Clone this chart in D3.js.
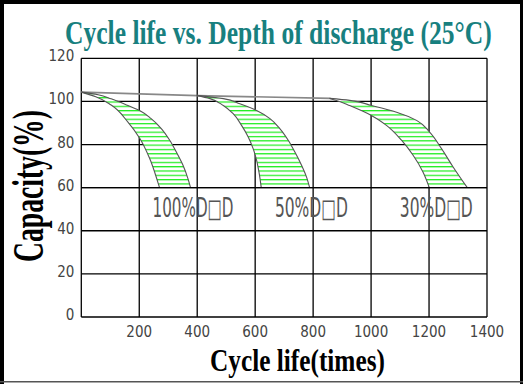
<!DOCTYPE html>
<html lang="en">
<head>
<meta charset="UTF-8">
<title>Cycle life vs. Depth of discharge</title>
<style>
  html, body { margin: 0; padding: 0; background: #fff; }
  svg { display: block; }
  .tick-label { font-family: "Liberation Sans Narrow", "DejaVu Sans Condensed", sans-serif; fill: #444; font-size: 15px; }
  .dod-label { font-family: "Liberation Sans Narrow", "DejaVu Sans Condensed", sans-serif; fill: #555; font-size: 26px; }
  .heading { font-family: "Liberation Serif", "DejaVu Serif", serif; font-weight: bold; }
</style>
</head>
<body>
<svg id="CHART" width="523" height="384"></svg>
<script src="https://cdnjs.cloudflare.com/ajax/libs/d3/7.8.5/d3.min.js"></script>
<script>
// ---- data ----
const xTicks = [200, 400, 600, 800, 1000, 1200, 1400];
const yTicks = [0, 20, 40, 60, 80, 100, 120];

// shared top line of the curves
const envelope = [[0, 104.3], [400, 102.7], [860, 101.4]];

// 100% DOD band
const dod100Inner = [[0, 104.3], [50, 102.2], [103, 98.3], [161, 90.4], [201, 83], [236, 73.5], [264, 62.6], [270, 60]];
const dod100Outer = [[0, 104.3], [58, 103.1], [103, 101.2], [161, 98.1], [201, 95.8], [241, 92], [276, 87.4], [305, 82], [328, 76.5], [351, 70.4], [368, 64.2], [377, 60]];

// 50% DOD band
const dod50Inner = [[398, 102.8], [444, 101.3], [490, 98.1], [524, 94.3], [553, 88.9], [576, 83.5], [593, 78.1], [605, 72.7], [613, 67.3], [621, 60]];
const dod50Outer = [[398, 102.8], [490, 101.3], [547, 98.9], [605, 95.8], [651, 92], [685, 87.4], [714, 82], [737, 76.5], [760, 70.4], [777, 65], [788, 60]];

// 30% DOD band
const dod30Inner = [[857, 101.4], [891, 100], [926, 98.1], [972, 95.4], [1001, 93.5], [1053, 88.9], [1105, 82], [1145, 75], [1179, 67.3], [1201, 60]];
const dod30Outer = [[857, 101.4], [926, 100.5], [1001, 98.1], [1088, 95], [1157, 91.2], [1202, 85.8], [1243, 78.1], [1283, 69.6], [1332, 60]];

const dodNames = ["100%D\u25A1D", "50%D\u25A1D", "30%D\u25A1D"];
const dodLabelPos = [[246, 46.3], [668, 46.3], [1099, 46.6]];

// ---- layout ----
const svg = d3.select("#CHART");
const plotLeft = 81.3, plotRight = 487, plotTop = 58.3, plotBottom = 317;

const x = d3.scaleLinear().domain([0, 1400]).range([plotLeft, plotRight]);
const y = d3.scaleLinear().domain([0, 120]).range([plotBottom, plotTop]);

// squeeze a text horizontally so it is exactly w pixels long
function fitText(g, w, tx, ty, rot) {
    const t = g.select("text");
    const len = t.node().getComputedTextLength();
    g.attr("transform", "translate(" + tx + "," + ty + ")" + (rot ? " rotate(" + rot + ")" : "") + " scale(" + (w / len) + ",1)");
}

svg.append("rect").attr("width", 523).attr("height", 384).attr("fill", "#fff");

// hatch pattern: green lines every 2 % of capacity
const hatchStep = y(0) - y(2);
const pat = svg.append("defs").append("pattern")
    .attr("id", "hatch")
    .attr("patternUnits", "userSpaceOnUse")
    .attr("x", 0).attr("y", y(60))
    .attr("width", 10).attr("height", hatchStep);
pat.append("rect").attr("width", 10).attr("height", hatchStep).attr("fill", "#fff");
pat.append("line")
    .attr("x1", 0).attr("x2", 10)
    .attr("y1", 0.6).attr("y2", 0.6)
    .attr("stroke", "#22ee22").attr("stroke-width", 1.3);

// grid
const grid = svg.append("g").attr("stroke", "#000").attr("stroke-width", 1.3);
grid.selectAll("line.v")
    .data(xTicks)
    .join("line")
    .attr("class", "v")
    .attr("x1", d => x(d)).attr("x2", d => x(d))
    .attr("y1", y(0)).attr("y2", y(120));
grid.selectAll("line.h")
    .data(yTicks)
    .join("line")
    .attr("class", "h")
    .attr("x1", x(0)).attr("x2", x(1400))
    .attr("y1", d => y(d)).attr("y2", d => y(d));
grid.append("line")
    .attr("x1", x(0)).attr("x2", x(0))
    .attr("y1", y(0)).attr("y2", y(120));

// bands
const curve = d3.line().x(d => x(d[0])).y(d => y(d[1])).curve(d3.curveMonotoneY);
const bands = [[dod100Inner, dod100Outer], [dod50Inner, dod50Outer], [dod30Inner, dod30Outer]];

bands.forEach(function(b) {
    const inner = b[0], outer = b[1];
    // closed shape: down the inner curve, along 60 %, back up the outer curve
    const a = curve(inner);
    const c = curve(outer.slice().reverse());
    svg.append("path")
        .attr("d", a + "L" + c.slice(1) + "Z")
        .attr("fill", "url(#hatch)")
        .attr("stroke", "none");
});

// envelope line
svg.append("path")
    .attr("d", d3.line().x(d => x(d[0])).y(d => y(d[1])).curve(d3.curveMonotoneX)(envelope))
    .attr("fill", "none")
    .attr("stroke", "#888")
    .attr("stroke-width", 1.6);

bands.forEach(function(b) {
    b.forEach(function(pts) {
        svg.append("path")
            .attr("d", curve(pts))
            .attr("fill", "none")
            .attr("stroke", "#555")
            .attr("stroke-width", 1.1);
    });
});

// redraw the 60 % line over the band bottoms
svg.append("line")
    .attr("x1", x(0)).attr("x2", x(1400))
    .attr("y1", y(60)).attr("y2", y(60))
    .attr("stroke", "#000").attr("stroke-width", 1.3);

// tick labels
svg.selectAll("text.xt")
    .data(xTicks)
    .join("text")
    .attr("class", "tick-label xt")
    .attr("x", d => x(d))
    .attr("y", y(0) + 20)
    .attr("text-anchor", "middle")
    .text(d => d);

svg.selectAll("text.yt")
    .data(yTicks)
    .join("text")
    .attr("class", "tick-label yt")
    .attr("x", plotLeft - 7)
    .attr("y", d => y(d) + 3)
    .attr("text-anchor", "end")
    .text(d => d);

// DOD labels
svg.selectAll("g.dod")
    .data(dodNames)
    .join("g")
    .attr("class", "dod")
    .each(function(d, i) {
        const g = d3.select(this);
        g.append("text").attr("class", "dod-label").text(d);
        fitText(g, i == 0 ? 81 : 73, x(dodLabelPos[i][0]), y(dodLabelPos[i][1]));
    });

// titles
const titleG = svg.append("g");
titleG.append("text")
    .attr("class", "heading")
    .style("font-size", "33px")
    .attr("fill", "#18807f")
    .text("Cycle life vs. Depth of discharge (25\u00B0C)");
fitText(titleG, 427, 65, 43.5);

const xLabG = svg.append("g");
xLabG.append("text")
    .attr("class", "heading")
    .style("font-size", "32px")
    .attr("fill", "#000")
    .text("Cycle life(times)");
fitText(xLabG, 175, 210, 371);

const yLabG = svg.append("g");
yLabG.append("text")
    .attr("class", "heading")
    .style("font-size", "44px")
    .attr("fill", "#000")
    .text("Capacity(%)");
fitText(yLabG, 152, 43, 262, -90);

// picture frame
const frame = svg.append("g").attr("fill", "#000");
frame.append("rect").attr("x", 0).attr("y", 0).attr("width", 4).attr("height", 384);
frame.append("rect").attr("x", 0).attr("y", 0).attr("width", 523).attr("height", 4);
frame.append("rect").attr("x", 520).attr("y", 0).attr("width", 3).attr("height", 384);
frame.append("rect").attr("x", 0).attr("y", 381).attr("width", 523).attr("height", 1.5).attr("fill", "#555");
</script>
</body>
</html>
